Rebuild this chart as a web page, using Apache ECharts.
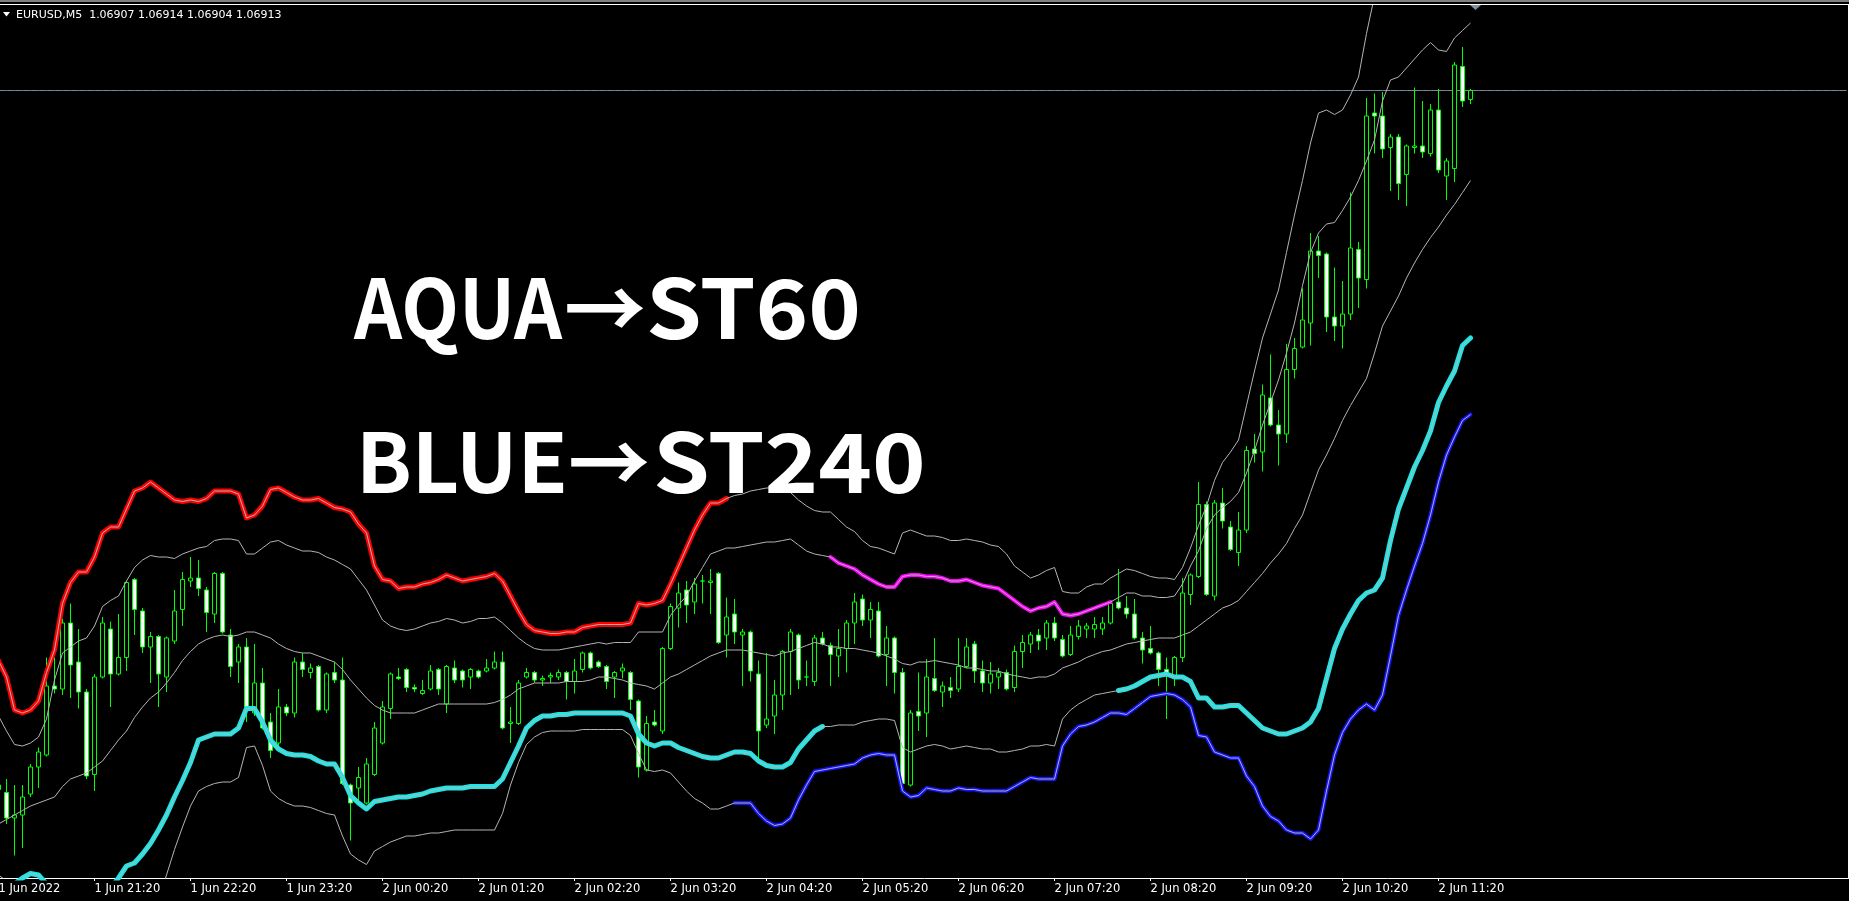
<!DOCTYPE html>
<html>
<head>
<meta charset="utf-8">
<script src="https://cdn.jsdelivr.net/npm/echarts@6/dist/echarts.min.js"></script>
<style>
  html, body { margin: 0; padding: 0; background: #000; }
  #mainChart { width: 1849px; height: 901px; }
</style>
</head>
<body>
<div id="mainChart"></div>
<script>
// EURUSD M5, 1 Jun 2022 20:20 -> 2 Jun 11:40
const symbolName = 'EURUSD,M5';
const firstLabel = '1 Jun 2022';
const startDay = 1;
const startMinute = 20 * 60 + 20;
const barMinutes = 5;
const slotCount = 232; // bars + empty shift area on the right
const labelEvery = 12;

// [open, close, low, high]
const candles = [
  [1.06450,1.06447,1.06443,1.06454],[1.06445,1.06428,1.06424,1.06454],[1.06428,1.06430,1.06403,1.06450],[1.06430,1.06442,1.06408,1.06450],[1.06444,1.06462,1.06442,1.06464],
  [1.06462,1.06472,1.06448,1.06475],[1.06470,1.06516,1.06469,1.06535],[1.06516,1.06514,1.06511,1.06535],[1.06514,1.06558,1.06510,1.06561],[1.06558,1.06530,1.06508,1.06571],
  [1.06532,1.06512,1.06501,1.06554],[1.06512,1.06456,1.06454,1.06514],[1.06457,1.06522,1.06446,1.06524],[1.06522,1.06558,1.06521,1.06562],[1.06554,1.06524,1.06502,1.06559],
  [1.06524,1.06535,1.06523,1.06564],[1.06535,1.06585,1.06526,1.06586],[1.06587,1.06567,1.06550,1.06588],[1.06566,1.06542,1.06538,1.06568],[1.06542,1.06549,1.06518,1.06552],
  [1.06549,1.06524,1.06502,1.06550],[1.06522,1.06548,1.06512,1.06549],[1.06546,1.06566,1.06544,1.06580],[1.06567,1.06587,1.06556,1.06592],[1.06586,1.06588,1.06582,1.06602],
  [1.06588,1.06581,1.06576,1.06600],[1.06580,1.06565,1.06552,1.06582],[1.06564,1.06591,1.06558,1.06592],[1.06591,1.06552,1.06551,1.06592],[1.06550,1.06529,1.06522,1.06554],
  [1.06532,1.06542,1.06518,1.06544],[1.06542,1.06502,1.06492,1.06548],[1.06498,1.06518,1.06496,1.06544],[1.06518,1.06488,1.06487,1.06528],[1.06492,1.06473,1.06468,1.06498],
  [1.06478,1.06502,1.06476,1.06514],[1.06502,1.06498,1.06496,1.06504],[1.06498,1.06532,1.06495,1.06535],[1.06532,1.06527,1.06522,1.06538],[1.06525,1.06528,1.06521,1.06531],
  [1.06529,1.06500,1.06499,1.06530],[1.06500,1.06524,1.06498,1.06525],[1.06525,1.06520,1.06518,1.06532],[1.06520,1.06451,1.06450,1.06535],[1.06450,1.06438,1.06413,1.06451],
  [1.06448,1.06455,1.06438,1.06462],[1.06438,1.06464,1.06437,1.06468],[1.06457,1.06488,1.06456,1.06492],[1.06478,1.06502,1.06477,1.06506],[1.06501,1.06524,1.06494,1.06525],
  [1.06522,1.06521,1.06520,1.06528],[1.06527,1.06515,1.06512,1.06528],[1.06515,1.06514,1.06512,1.06517],[1.06511,1.06513,1.06510,1.06520],[1.06514,1.06526,1.06513,1.06530],
  [1.06527,1.06514,1.06510,1.06528],[1.06504,1.06529,1.06498,1.06530],[1.06528,1.06520,1.06518,1.06533],[1.06526,1.06520,1.06515,1.06527],[1.06522,1.06527,1.06514,1.06528],
  [1.06526,1.06522,1.06521,1.06527],[1.06526,1.06528,1.06525,1.06534],[1.06528,1.06532,1.06527,1.06539],[1.06532,1.06488,1.06487,1.06539],[1.06491,1.06492,1.06478,1.06502],
  [1.06491,1.06518,1.06490,1.06520],[1.06522,1.06525,1.06521,1.06528],[1.06525,1.06520,1.06518,1.06526],[1.06520,1.06521,1.06516,1.06523],[1.06522,1.06523,1.06518,1.06525],
  [1.06522,1.06525,1.06520,1.06527],[1.06525,1.06519,1.06507,1.06526],[1.06519,1.06526,1.06511,1.06534],[1.06527,1.06538,1.06525,1.06539],[1.06538,1.06528,1.06527,1.06539],
  [1.06532,1.06529,1.06528,1.06533],[1.06529,1.06519,1.06514,1.06530],[1.06522,1.06525,1.06508,1.06526],[1.06526,1.06528,1.06521,1.06531],[1.06525,1.06507,1.06500,1.06526],
  [1.06506,1.06462,1.06455,1.06507],[1.06460,1.06491,1.06459,1.06496],[1.06492,1.06490,1.06489,1.06500],[1.06486,1.06541,1.06484,1.06542],[1.06541,1.06569,1.06540,1.06571],
  [1.06568,1.06578,1.06555,1.06585],[1.06580,1.06570,1.06558,1.06586],[1.06572,1.06584,1.06564,1.06588],[1.06586,1.06586,1.06571,1.06590],[1.06585,1.06586,1.06564,1.06594],
  [1.06591,1.06545,1.06544,1.06592],[1.06550,1.06562,1.06535,1.06575],[1.06564,1.06552,1.06544,1.06574],[1.06550,1.06552,1.06516,1.06554],[1.06552,1.06526,1.06519,1.06553],
  [1.06524,1.06486,1.06468,1.06533],[1.06490,1.06494,1.06488,1.06538],[1.06496,1.06510,1.06484,1.06520],[1.06510,1.06539,1.06500,1.06540],[1.06539,1.06552,1.06510,1.06554],
  [1.06550,1.06520,1.06514,1.06551],[1.06522,1.06522,1.06516,1.06533],[1.06519,1.06548,1.06516,1.06550],[1.06548,1.06544,1.06543,1.06552],[1.06543,1.06537,1.06516,1.06545],
  [1.06536,1.06541,1.06522,1.06554],[1.06541,1.06558,1.06525,1.06560],[1.06558,1.06572,1.06544,1.06578],[1.06574,1.06560,1.06556,1.06577],[1.06560,1.06567,1.06548,1.06572],
  [1.06566,1.06536,1.06535,1.06572],[1.06537,1.06548,1.06516,1.06556],[1.06548,1.06525,1.06511,1.06549],[1.06525,1.06451,1.06450,1.06528],[1.06450,1.06498,1.06449,1.06500],
  [1.06499,1.06496,1.06486,1.06525],[1.06498,1.06522,1.06482,1.06534],[1.06521,1.06513,1.06512,1.06548],[1.06512,1.06516,1.06502,1.06519],[1.06515,1.06513,1.06508,1.06522],
  [1.06514,1.06529,1.06512,1.06548],[1.06529,1.06542,1.06528,1.06548],[1.06544,1.06526,1.06518,1.06546],[1.06526,1.06518,1.06512,1.06533],[1.06518,1.06524,1.06511,1.06532],
  [1.06522,1.06525,1.06514,1.06528],[1.06525,1.06514,1.06513,1.06527],[1.06515,1.06539,1.06512,1.06543],[1.06539,1.06545,1.06528,1.06550],[1.06544,1.06550,1.06538,1.06552],
  [1.06550,1.06546,1.06540,1.06554],[1.06548,1.06558,1.06540,1.06560],[1.06558,1.06548,1.06546,1.06562],[1.06547,1.06536,1.06535,1.06550],[1.06537,1.06550,1.06536,1.06556],
  [1.06549,1.06556,1.06547,1.06560],[1.06554,1.06556,1.06548,1.06558],[1.06554,1.06557,1.06548,1.06562],[1.06554,1.06558,1.06550,1.06562],[1.06558,1.06571,1.06557,1.06573],
  [1.06572,1.06568,1.06567,1.06594],[1.06568,1.06564,1.06561,1.06576],[1.06564,1.06548,1.06547,1.06574],[1.06548,1.06540,1.06531,1.06552],[1.06541,1.06538,1.06537,1.06556],
  [1.06538,1.06527,1.06516,1.06539],[1.06527,1.06524,1.06494,1.06535],[1.06521,1.06535,1.06516,1.06536],[1.06535,1.06578,1.06532,1.06588],[1.06577,1.06590,1.06570,1.06591],
  [1.06589,1.06637,1.06588,1.06652],[1.06637,1.06577,1.06576,1.06639],[1.06576,1.06638,1.06573,1.06640],[1.06638,1.06626,1.06621,1.06648],[1.06622,1.06607,1.06606,1.06626],
  [1.06605,1.06620,1.06596,1.06632],[1.06620,1.06673,1.06618,1.06676],[1.06674,1.06671,1.06665,1.06684],[1.06672,1.06710,1.06659,1.06717],[1.06708,1.06690,1.06689,1.06737],
  [1.06690,1.06684,1.06663,1.06700],[1.06684,1.06727,1.06678,1.06744],[1.06727,1.06741,1.06721,1.06748],[1.06742,1.06760,1.06741,1.06781],[1.06758,1.06806,1.06743,1.06818],
  [1.06806,1.06803,1.06788,1.06816],[1.06804,1.06762,1.06752,1.06805],[1.06762,1.06756,1.06746,1.06795],[1.06756,1.06764,1.06741,1.06786],[1.06764,1.06808,1.06760,1.06845],
  [1.06807,1.06788,1.06768,1.06812],[1.06787,1.06896,1.06781,1.06908],[1.06898,1.06896,1.06871,1.06911],[1.06896,1.06874,1.06868,1.06912],[1.06875,1.06882,1.06846,1.06884],
  [1.06882,1.06851,1.06840,1.06884],[1.06857,1.06876,1.06836,1.06877],[1.06875,1.06876,1.06871,1.06915],[1.06876,1.06872,1.06868,1.06906],[1.06871,1.06900,1.06869,1.06904],
  [1.06900,1.06860,1.06858,1.06914],[1.06856,1.06866,1.06840,1.06868],[1.06861,1.06930,1.06852,1.06932],[1.06929,1.06906,1.06902,1.06942],[1.06907,1.06913,1.06904,1.06914]
];

// ST60 bands (upper shown red, lower shown aqua where active)
const st60Up = [
  1.06533,1.06522,1.06500,1.06498,1.06500,1.06506,1.06525,1.06540,1.06571,1.06585,
  1.06592,1.06592,1.06602,1.06618,1.06622,1.06622,1.06634,1.06646,1.06648,1.06652,
  1.06648,1.06644,1.06640,1.06639,1.06640,1.06639,1.06641,1.06646,1.06646,1.06646,
  1.06644,1.06628,1.06630,1.06636,1.06647,1.06648,1.06645,1.06642,1.06640,1.06640,
  1.06641,1.06638,1.06635,1.06634,1.06632,1.06624,1.06618,1.06596,1.06587,1.06586,
  1.06581,1.06582,1.06582,1.06584,1.06585,1.06587,1.06590,1.06588,1.06586,1.06587,
  1.06588,1.06589,1.06591,1.06586,1.06576,1.06566,1.06557,1.06553,1.06552,1.06551,
  1.06551,1.06552,1.06552,1.06555,1.06556,1.06557,1.06557,1.06557,1.06557,1.06558,
  1.06571,1.06570,1.06571,1.06573,1.06584,1.06596,1.06608,1.06620,1.06630,1.06638,
  1.06638,1.06641,1.06643,1.06644,1.06646,1.06647,1.06648,1.06648,1.06647,1.06645,
  1.06640,1.06636,1.06633,1.06632,1.06632,1.06627,1.06622,1.06619,1.06613,1.06609,
  1.06608,1.06606,1.06604,1.06618,1.06620,1.06618,1.06616,1.06616,1.06615,1.06613,
  1.06613,1.06614,1.06613,1.06612,1.06610,1.06609,1.06604,1.06596,1.06592,1.06588,
  1.06590,1.06593,1.06595,1.06579,1.06578,1.06578,1.06582,1.06584,1.06584,1.06588,
  1.06591,1.06594,1.06593,1.06591,1.06589,1.06588,1.06588,1.06587,1.06595,1.06608,
  1.06623,1.06636,1.06653,1.06665,1.06672,1.06680,1.06703,1.06726,1.06748,1.06764,
  1.06780,1.06805,1.06830,1.06853,1.06878,1.06898,1.06900,1.06897,1.06900,1.06910,
  1.06922,1.06951,1.06976,1.06993,1.07006,1.07020,1.07030,1.07040,1.07046,1.07053,
  1.07063,1.07073,1.07086,1.07093,1.07103
];
const st60Dn = [
  1.06390,1.06386,1.06384,1.06388,1.06391,1.06390,1.06384,1.06376,1.06370,1.06365,
  1.06363,1.06363,1.06366,1.06373,1.06381,1.06388,1.06396,1.06398,1.06404,1.06411,
  1.06420,1.06430,1.06442,1.06453,1.06465,1.06480,1.06482,1.06484,1.06484,1.06484,
  1.06488,1.06501,1.06501,1.06492,1.06480,1.06474,1.06471,1.06470,1.06470,1.06469,
  1.06466,1.06464,1.06464,1.06455,1.06443,1.06438,1.06434,1.06439,1.06440,1.06441,
  1.06442,1.06442,1.06443,1.06444,1.06446,1.06447,1.06448,1.06448,1.06448,1.06449,
  1.06449,1.06449,1.06449,1.06454,1.06465,1.06476,1.06488,1.06493,1.06496,1.06496,
  1.06497,1.06497,1.06498,1.06498,1.06498,1.06498,1.06498,1.06498,1.06498,1.06496,
  1.06484,1.06478,1.06476,1.06478,1.06478,1.06475,1.06473,1.06471,1.06469,1.06468,
  1.06468,1.06470,1.06472,1.06472,1.06471,1.06466,1.06463,1.06462,1.06462,1.06465,
  1.06474,1.06480,1.06486,1.06489,1.06489,1.06490,1.06490,1.06490,1.06492,1.06493,
  1.06494,1.06494,1.06493,1.06475,1.06472,1.06474,1.06476,1.06477,1.06476,1.06474,
  1.06475,1.06476,1.06475,1.06474,1.06474,1.06472,1.06472,1.06473,1.06474,1.06476,
  1.06476,1.06477,1.06476,1.06494,1.06500,1.06504,1.06507,1.06510,1.06511,1.06512,
  1.06513,1.06514,1.06516,1.06519,1.06522,1.06523,1.06524,1.06522,1.06522,1.06519,
  1.06508,1.06508,1.06502,1.06502,1.06503,1.06503,1.06498,1.06493,1.06488,1.06486,
  1.06484,1.06484,1.06486,1.06488,1.06492,1.06501,1.06521,1.06541,1.06554,1.06564,
  1.06573,1.06578,1.06580,1.06588,1.06613,1.06634,1.06648,1.06662,1.06673,1.06686,
  1.06705,1.06716,1.06726,1.06743,1.06748
];

// ST240 bands (upper shown magenta, lower shown blue where active)
const st240Up = [
  1.06496,1.06486,1.06477,1.06476,1.06478,1.06482,1.06494,1.06520,1.06538,1.06542,
  1.06546,1.06548,1.06556,1.06569,1.06573,1.06576,1.06586,1.06595,1.06600,1.06603,
  1.06602,1.06602,1.06601,1.06604,1.06606,1.06608,1.06609,1.06613,1.06614,1.06614,
  1.06613,1.06604,1.06604,1.06608,1.06612,1.06613,1.06610,1.06608,1.06606,1.06606,
  1.06605,1.06602,1.06600,1.06597,1.06594,1.06587,1.06580,1.06570,1.06560,1.06556,
  1.06554,1.06553,1.06554,1.06556,1.06558,1.06559,1.06561,1.06560,1.06558,1.06559,
  1.06561,1.06561,1.06562,1.06558,1.06553,1.06548,1.06544,1.06541,1.06540,1.06540,
  1.06540,1.06541,1.06542,1.06543,1.06544,1.06545,1.06544,1.06545,1.06545,1.06545,
  1.06552,1.06552,1.06552,1.06552,1.06563,1.06570,1.06576,1.06586,1.06595,1.06604,
  1.06606,1.06608,1.06608,1.06609,1.06610,1.06611,1.06612,1.06612,1.06613,1.06614,
  1.06610,1.06606,1.06604,1.06603,1.06602,1.06598,1.06596,1.06594,1.06590,1.06587,
  1.06584,1.06582,1.06582,1.06589,1.06590,1.06590,1.06589,1.06589,1.06588,1.06586,
  1.06586,1.06587,1.06585,1.06583,1.06582,1.06581,1.06577,1.06573,1.06569,1.06566,
  1.06568,1.06569,1.06572,1.06564,1.06563,1.06564,1.06566,1.06568,1.06570,1.06572,
  1.06575,1.06578,1.06578,1.06576,1.06576,1.06575,1.06575,1.06576,1.06584,1.06596,
  1.06606,1.06621,1.06630,1.06635,1.06639,1.06645,1.06658,1.06673,1.06690,1.06705,
  1.06720,1.06738,1.06758,1.06783,1.06805,1.06818,1.06824,1.06825,1.06833,1.06842,
  1.06853,1.06866,1.06880,1.06906,1.06920,1.06922,1.06928,1.06934,1.06940,1.06945,
  1.06940,1.06939,1.06948,1.06953,1.06958
];
const st240Dn = [
  null,null,null,null,null,null,null,null,null,null,
  null,null,null,null,null,null,null,null,1.06353,1.06363,
  1.06374,1.06390,1.06407,1.06422,1.06436,1.06446,1.06449,1.06451,1.06452,1.06452,
  1.06455,1.06475,1.06476,1.06463,1.06446,1.06441,1.06438,1.06436,1.06436,1.06435,
  1.06433,1.06431,1.06430,1.06416,1.06404,1.06400,1.06397,1.06406,1.06409,1.06412,
  1.06414,1.06416,1.06416,1.06417,1.06418,1.06418,1.06419,1.06420,1.06420,1.06420,
  1.06420,1.06420,1.06420,1.06431,1.06450,1.06465,1.06477,1.06482,1.06485,1.06486,
  1.06486,1.06486,1.06486,1.06487,1.06487,1.06487,1.06487,1.06487,1.06487,1.06483,
  1.06471,1.06460,1.06459,1.06460,1.06458,1.06452,1.06446,1.06441,1.06438,1.06434,
  1.06434,1.06436,1.06438,1.06438,1.06438,1.06431,1.06426,1.06423,1.06424,1.06428,
  1.06440,1.06450,1.06459,1.06460,1.06461,1.06462,1.06463,1.06464,1.06468,1.06470,
  1.06471,1.06470,1.06470,1.06446,1.06442,1.06443,1.06448,1.06447,1.06446,1.06446,
  1.06448,1.06447,1.06447,1.06446,1.06446,1.06446,1.06446,1.06449,1.06452,1.06455,
  1.06454,1.06454,1.06454,1.06476,1.06484,1.06489,1.06490,1.06492,1.06495,1.06498,
  1.06498,1.06497,1.06501,1.06505,1.06509,1.06510,1.06511,1.06510,1.06507,1.06502,
  1.06483,1.06482,1.06472,1.06470,1.06468,1.06468,1.06456,1.06449,1.06436,1.06429,
  1.06426,1.06420,1.06418,1.06418,1.06414,1.06420,1.06446,1.06470,1.06485,1.06494,
  1.06500,1.06504,1.06500,1.06510,1.06536,1.06563,1.06580,1.06596,1.06611,1.06630,
  1.06652,1.06670,1.06682,1.06693,1.06697
];

// middle line
const midLine = [
  1.06424,1.06427,1.06430,1.06433,1.06436,1.06438,1.06440,1.06442,1.06449,1.06454,
  1.06456,1.06458,1.06462,1.06466,1.06473,1.06480,1.06486,1.06495,1.06502,1.06508,
  1.06512,1.06518,1.06525,1.06533,1.06539,1.06544,1.06547,1.06549,1.06550,1.06549,
  1.06550,1.06552,1.06552,1.06550,1.06548,1.06544,1.06541,1.06539,1.06538,1.06538,
  1.06536,1.06534,1.06532,1.06527,1.06520,1.06514,1.06508,1.06503,1.06500,1.06498,
  1.06498,1.06498,1.06498,1.06500,1.06502,1.06504,1.06504,1.06504,1.06504,1.06504,
  1.06504,1.06504,1.06505,1.06507,1.06510,1.06514,1.06516,1.06518,1.06518,1.06518,
  1.06518,1.06519,1.06519,1.06519,1.06520,1.06522,1.06522,1.06521,1.06520,1.06518,
  1.06517,1.06516,1.06514,1.06518,1.06522,1.06524,1.06527,1.06530,1.06533,1.06536,
  1.06538,1.06540,1.06540,1.06540,1.06539,1.06538,1.06537,1.06536,1.06538,1.06539,
  1.06541,1.06543,1.06545,1.06544,1.06542,1.06542,1.06541,1.06541,1.06540,1.06539,
  1.06538,1.06536,1.06534,1.06531,1.06530,1.06532,1.06532,1.06533,1.06532,1.06531,
  1.06530,1.06528,1.06528,1.06527,1.06526,1.06526,1.06524,1.06523,1.06522,1.06521,
  1.06522,1.06522,1.06524,1.06528,1.06530,1.06532,1.06535,1.06537,1.06539,1.06540,
  1.06542,1.06544,1.06545,1.06546,1.06547,1.06548,1.06548,1.06548,1.06550,1.06552,
  1.06556,1.06560,1.06564,1.06568,1.06570,1.06573,1.06579,1.06585,1.06591,1.06598,
  1.06604,1.06611,1.06621,1.06630,1.06645,1.06660,1.06670,1.06681,1.06693,1.06703,
  1.06712,1.06721,1.06738,1.06756,1.06766,1.06776,1.06788,1.06798,1.06807,1.06815,
  1.06822,1.06830,1.06837,1.06845,1.06853
];

// bar ranges where each trend line is drawn in colour
const redRange = [[0, 91]];
const aquaRange = [[2, 103], [140, 184]];
const magentaRange = [[104, 139]];
const blueRange = [[92, 184]];

const priceMin = 1.06388;
const priceMax = 1.06970;

function pad(n) { return (n < 10 ? '0' : '') + n; }
const categories = [];
for (let j = 0; j < slotCount; j++) {
  const t = startMinute + j * barMinutes;
  const day = startDay + Math.floor(t / 1440);
  const m = t % 1440;
  categories.push(day + ' Jun ' + pad(Math.floor(m / 60)) + ':' + pad(m % 60));
}

function seg(arr, ranges) {
  return arr.map(function (v, i) {
    for (let k = 0; k < ranges.length; k++) {
      if (i >= ranges[k][0] && i <= ranges[k][1]) return v;
    }
    return null;
  });
}

function showTick(index) {
  return index % labelEvery === 0 && index < candles.length;
}

const last = candles[candles.length - 1];
const header = symbolName + '  ' + [last[0], last[3], last[2], last[1]].map(function (v) { return v.toFixed(5); }).join(' ');
// bid line across the whole chart
const bidLine = categories.map(function () { return last[1]; });

const chart = echarts.init(document.getElementById('mainChart'));

function bandSeries(data) {
  return {
    type: 'line', data: data, symbol: 'none', silent: true, z: 5,
    connectNulls: false,
    lineStyle: { color: '#b4b4b4', width: 1 }
  };
}
function trendSeries(data, color, width) {
  return {
    type: 'line', data: data, symbol: 'none', silent: true, z: 4,
    connectNulls: false,
    lineStyle: { color: color, width: width, join: 'round', cap: 'round' }
  };
}
// big caption pieces, stretched a little to the width of the original lettering
function caption(text, x, y, sx) {
  return {
    type: 'text', z: 100, x: x, y: y, scaleX: sx,
    style: { x: 0, y: 0, text: text, fill: '#ffffff', font: 'bold 82px "Noto Sans CJK JP"', verticalAlign: 'middle', textVerticalAlign: 'middle' }
  };
}

const option = {
  backgroundColor: '#000',
  animation: false,
  grid: { left: -5.5, top: 5, width: slotCount * 8, height: 873, outerBoundsMode: 'none', containLabel: false },
  xAxis: {
    type: 'category',
    data: categories,
    boundaryGap: true,
    axisLine: { lineStyle: { color: '#ffffff', width: 1 } },
    axisTick: { show: true, interval: showTick, alignWithLabel: true, length: 3, lineStyle: { color: '#ffffff' } },
    axisLabel: {
      interval: showTick,
      align: 'left',
      margin: 5,
      color: '#ffffff',
      fontSize: 11.5,
      fontFamily: 'DejaVu Sans',
      formatter: function (val, idx) { return idx === 0 ? firstLabel : val; }
    },
    splitLine: { show: false }
  },
  yAxis: {
    type: 'value', min: priceMin, max: priceMax, show: false, splitLine: { show: false }
  },
  series: [
    {
      type: 'line', data: bidLine, symbol: 'none', silent: true, z: 2,
      lineStyle: { color: '#778899', width: 1 }
    },
    {
      type: 'candlestick',
      data: candles,
      barWidth: 4,
      z: 3,
      silent: true,
      itemStyle: {
        color: '#000000', color0: '#ffffff',
        borderColor: '#00ff00', borderColor0: '#00ff00', borderColorDoji: '#00ff00',
        borderWidth: 1
      }
    },
    trendSeries(seg(st60Up, redRange), '#ff0000', 5),
    trendSeries(seg(st60Dn, aquaRange), '#1fe6e6', 5),
    trendSeries(seg(st240Up, magentaRange), '#ff00ff', 4),
    trendSeries(seg(st240Dn, blueRange), '#1414ff', 4),
    bandSeries(st60Up),
    bandSeries(st60Dn),
    bandSeries(st240Up),
    bandSeries(st240Dn),
    bandSeries(midLine)
  ],
  graphic: [
    { type: 'rect', z: 100, shape: { x: 0, y: 0, width: 1849, height: 2 }, style: { fill: '#808080' } },
    { type: 'rect', z: 100, shape: { x: 0, y: 4, width: 1849, height: 1 }, style: { fill: '#ffffff' } },
    { type: 'rect', z: 100, shape: { x: 1848, y: 4, width: 1, height: 875 }, style: { fill: '#ffffff' } },
    { type: 'polygon', z: 100, shape: { points: [[1470, 5], [1481, 5], [1475.5, 10]] }, style: { fill: '#8090a0' } },
    { type: 'polygon', z: 100, shape: { points: [[3, 12], [10, 12], [6.5, 16.5]] }, style: { fill: '#ffffff' } },
    {
      type: 'text', z: 100,
      style: { x: 16, y: 15, text: header, fill: '#ffffff', font: '11px "DejaVu Sans"', verticalAlign: 'middle', textVerticalAlign: 'middle' }
    },
    caption('AQUA', 354, 308, 0.915),
    caption('→', 564, 308, 1),
    caption('ST60', 646, 308, 1.09),
    caption('BLUE', 356, 462, 1),
    caption('→', 568, 462, 1),
    caption('ST240', 653, 462, 1.11)
  ]
};

chart.setOption(option);
</script>
</body>
</html>
